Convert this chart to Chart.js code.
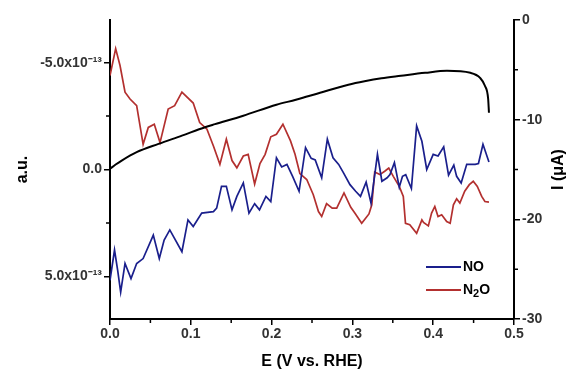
<!DOCTYPE html>
<html>
<head>
<meta charset="utf-8">
<script src="https://cdn.jsdelivr.net/npm/chart.js@4.4.0/dist/chart.umd.min.js"></script>
<style>
  html, body { margin: 0; padding: 0; background: #fff; }
  #wrap { width: 576px; height: 371px; }
</style>
</head>
<body>
<div id="wrap"><canvas id="chart"></canvas></div>
<script>
// NO signal (a.u., x1e-13), potential in V vs RHE
const noE = [0.000, 0.0056, 0.0095, 0.0132, 0.0186, 0.026, 0.033, 0.041, 0.0536, 0.061, 0.067, 0.074, 0.089, 0.0965, 0.103, 0.1135, 0.128, 0.132, 0.138, 0.144, 0.151, 0.157, 0.165, 0.172, 0.179, 0.185, 0.193, 0.199, 0.206, 0.2125, 0.219, 0.226, 0.234, 0.242, 0.249, 0.254, 0.262, 0.269, 0.276, 0.283, 0.289, 0.297, 0.304, 0.31, 0.317, 0.323, 0.331, 0.3365, 0.343, 0.3465, 0.352, 0.358, 0.362, 0.366, 0.373, 0.3795, 0.386, 0.392, 0.400, 0.406, 0.413, 0.419, 0.4255, 0.429, 0.4346, 0.4415, 0.452, 0.456, 0.4616, 0.469];
const noVal = [5.19, 3.77, 4.72, 5.74, 4.40, 5.11, 4.40, 4.17, 3.07, 4.17, 3.30, 2.83, 3.85, 2.36, 2.67, 2.04, 1.97, 1.81, 0.79, 0.79, 1.89, 1.26, 0.63, 2.04, 1.60, 1.89, 1.26, 1.50, -0.55, -0.12, -0.24, 0.32, 1.02, -1.02, -0.52, -0.45, 0.39, -1.42, -0.55, -0.24, 0.16, 0.71, 1.02, 1.26, 0.59, 1.57, -0.71, 0.55, 0.39, 0.24, -0.32, 0.83, 0.32, 0.24, 0.89, -2.04, -1.32, 0.00, -0.71, -0.63, -1.06, 0.26, -0.21, 0.32, 0.63, -0.24, -0.24, -0.28, -1.18, -0.35];

// N2O signal (a.u., x1e-13)
const n2oE = [0.000, 0.007, 0.0124, 0.0186, 0.0248, 0.033, 0.041, 0.0474, 0.0548, 0.0619, 0.072, 0.080, 0.089, 0.103, 0.111, 0.120, 0.128, 0.136, 0.144, 0.151, 0.157, 0.165, 0.171, 0.179, 0.1856, 0.192, 0.199, 0.206, 0.214, 0.2234, 0.229, 0.235, 0.2435, 0.2516, 0.258, 0.262, 0.268, 0.275, 0.2806, 0.2896, 0.298, 0.303, 0.3115, 0.3205, 0.324, 0.3276, 0.334, 0.340, 0.345, 0.3506, 0.358, 0.363, 0.3657, 0.371, 0.3795, 0.386, 0.388, 0.394, 0.398, 0.402, 0.406, 0.4105, 0.4167, 0.421, 0.425, 0.429, 0.433, 0.439, 0.4447, 0.4496, 0.4546, 0.46, 0.464, 0.469];
const n2oVal = [-4.40, -5.66, -4.87, -3.62, -3.30, -2.99, -1.18, -1.97, -2.12, -1.26, -2.83, -2.99, -3.62, -3.11, -2.20, -1.89, -1.10, -0.24, -1.42, -0.42, -0.08, -0.63, -0.71, 0.68, -0.28, -0.71, -1.53, -1.65, -2.12, -1.34, -0.71, 0.19, 0.47, 1.18, 1.97, 2.20, 1.60, 1.81, 1.81, 1.10, 1.77, 2.04, 2.52, 2.08, 1.65, 0.12, 0.24, 0.08, -0.07, 0.32, 0.79, 1.26, 2.52, 2.59, 2.99, 2.36, 2.48, 2.64, 2.04, 1.73, 2.20, 2.12, 2.44, 2.52, 1.65, 1.37, 1.57, 1.02, 0.71, 0.55, 0.79, 1.26, 1.50, 1.53];

// current (uA)
const curE = [0.000, 0.007, 0.0145, 0.033, 0.06, 0.089, 0.1176, 0.13, 0.165, 0.206, 0.23, 0.26, 0.295, 0.315, 0.336, 0.36, 0.39, 0.417, 0.446, 0.458, 0.464, 0.468, 0.469];
const curVal = [-14.93, -14.5, -14.1, -13.26, -12.43, -11.6, -10.76, -10.45, -9.6, -8.5, -8.0, -7.3, -6.5, -6.15, -5.85, -5.6, -5.3, -5.1, -5.3, -5.8, -6.6, -7.9, -9.3];

const xTicks = [0.0, 0.1, 0.2, 0.3, 0.4, 0.5];
const xMinor = [0.05, 0.15, 0.25, 0.35, 0.45];
const auTicks = [-5, 0, 5];
const auMinor = [-2.5, 2.5];
const iTicks = [-30, -20, -10, 0];
const iMinor = [-25, -15, -5];

const pts = (xs, ys) => xs.map((x, i) => ({ x: x, y: ys[i] }));

const FONT = "'Liberation Sans', Arial, sans-serif";
const BLUE = "#1a1f8c";
const RED = "#b3302f";

// minor ticks, right axis title and legend
const extras = {
  id: "extras",
  afterDraw(chart) {
    const ctx = chart.ctx;
    const xs = chart.scales.x, ya = chart.scales.y, yi = chart.scales.y1;
    const area = chart.chartArea;
    ctx.save();
    ctx.strokeStyle = "#000";
    ctx.lineWidth = 1.5;
    ctx.beginPath();
    xMinor.forEach(v => {
      const px = xs.getPixelForValue(v);
      ctx.moveTo(px, area.bottom); ctx.lineTo(px, area.bottom + 4);
    });
    auMinor.forEach(v => {
      const py = ya.getPixelForValue(v);
      ctx.moveTo(area.left, py); ctx.lineTo(area.left - 4, py);
    });
    iMinor.forEach(v => {
      const py = yi.getPixelForValue(v);
      ctx.moveTo(area.right, py); ctx.lineTo(area.right + 4, py);
    });
    ctx.stroke();

    // right axis title, reading bottom to top
    ctx.fillStyle = "#000";
    ctx.font = "bold 16px " + FONT;
    ctx.textAlign = "center";
    ctx.textBaseline = "middle";
    ctx.translate(559, (area.top + area.bottom) / 2);
    ctx.rotate(-Math.PI / 2);
    ctx.fillText("I (\u03bcA)", 0, 0);
    ctx.restore();

    // legend
    ctx.save();
    ctx.lineWidth = 2;
    ctx.textBaseline = "middle";
    ctx.font = "bold 14px " + FONT;
    ctx.fillStyle = "#000";
    ctx.strokeStyle = BLUE;
    ctx.beginPath(); ctx.moveTo(426, 267); ctx.lineTo(461, 267); ctx.stroke();
    ctx.fillText("NO", 463, 267);
    ctx.strokeStyle = RED;
    ctx.beginPath(); ctx.moveTo(426, 290); ctx.lineTo(461, 290); ctx.stroke();
    ctx.fillText("N", 463, 290);
    let w = ctx.measureText("N").width;
    ctx.font = "bold 11px " + FONT;
    ctx.fillText("2", 463 + w, 294);
    w += ctx.measureText("2").width;
    ctx.font = "bold 14px " + FONT;
    ctx.fillText("O", 463 + w, 290);
    ctx.restore();
  }
};

new Chart(document.getElementById("chart"), {
  type: "line",
  data: {
    datasets: [
      {
        label: "I",
        data: pts(curE, curVal),
        yAxisID: "y1",
        borderColor: "#000",
        borderWidth: 2,
        pointRadius: 0,
        cubicInterpolationMode: "monotone",
      },
      {
        label: "NO",
        data: pts(noE, noVal),
        yAxisID: "y",
        borderColor: BLUE,
        borderWidth: 1.7,
        pointRadius: 0,
        tension: 0,
      },
      {
        label: "N2O",
        data: pts(n2oE, n2oVal),
        yAxisID: "y",
        borderColor: RED,
        borderWidth: 1.7,
        pointRadius: 0,
        tension: 0,
      },
    ],
  },
  options: {
    responsive: true,
    maintainAspectRatio: false,
    animation: false,
    layout: { padding: { top: 20, right: 0, bottom: 0, left: 0 } },
    plugins: { legend: { display: false }, tooltip: { enabled: false } },
    scales: {
      x: {
        type: "linear",
        min: 0,
        max: 0.5,
        afterBuildTicks: s => { s.ticks = xTicks.map(v => ({ value: v })); },
        afterFit: s => { s.height = 52; },
        border: { color: "#000", width: 2 },
        grid: { drawOnChartArea: false, color: "#000", lineWidth: 1.5, tickLength: 6 },
        ticks: {
          color: "#333",
          font: { family: FONT, size: 14, weight: "bold" },
          padding: 1,
          callback: v => v.toFixed(1),
        },
        title: {
          display: true,
          text: "E (V vs. RHE)",
          color: "#000",
          font: { family: FONT, size: 16, weight: "bold" },
          padding: { top: 2, bottom: 0 },
        },
      },
      y: {
        type: "linear",
        position: "left",
        min: -7,
        max: 7,
        reverse: true,
        afterBuildTicks: s => { s.ticks = auTicks.map(v => ({ value: v })); },
        afterFit: s => { s.width = 110; },
        border: { color: "#000", width: 2 },
        grid: { drawOnChartArea: false, color: "#000", lineWidth: 1.5, tickLength: 6 },
        ticks: {
          color: "#333",
          font: { family: FONT, size: 14, weight: "bold" },
          padding: 2,
          callback: v => v === 0 ? "0.0" : (v < 0 ? "-" : "") + Math.abs(v).toFixed(1) + "x10\u207b\u00b9\u00b3",
        },
        title: {
          display: true,
          text: "a.u.",
          color: "#000",
          font: { family: FONT, size: 16, weight: "bold" },
          padding: { top: 13, bottom: 0 },
        },
      },
      y1: {
        type: "linear",
        position: "right",
        min: -30,
        max: 0,
        afterBuildTicks: s => { s.ticks = iTicks.map(v => ({ value: v })); },
        afterFit: s => { s.width = 62; },
        border: { color: "#000", width: 2 },
        grid: { drawOnChartArea: false, color: "#000", lineWidth: 1.5, tickLength: 6 },
        ticks: {
          color: "#333",
          font: { family: FONT, size: 14, weight: "bold" },
          padding: 2,
        },
      },
    },
  },
  plugins: [extras],
});
</script>
</body>
</html>
